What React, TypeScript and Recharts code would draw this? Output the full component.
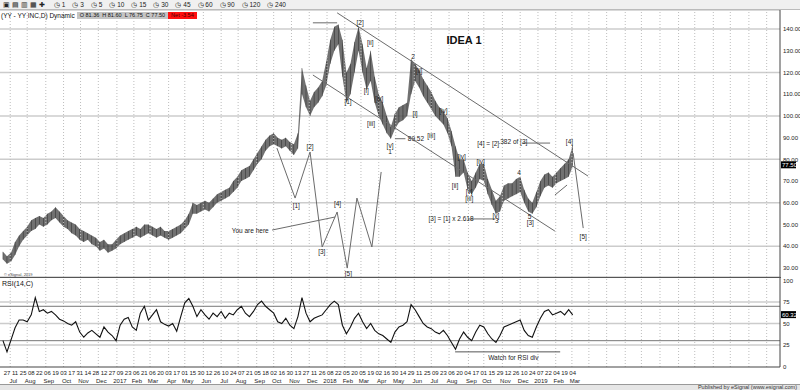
import React from "react"
import { ComposedChart, Bar, Area, Line, Scatter, XAxis, YAxis, CartesianGrid, ReferenceLine } from "recharts"

const lows = [
  34, 32, 33, 36, 40, 43, 45, 47, 48, 50,
  49, 50, 52, 53, 51, 49, 48, 46, 45, 43,
  42, 43, 41, 40, 38, 39, 37, 38, 39, 41,
  42, 43, 44, 45, 44, 45, 46, 45, 44, 45,
  44, 43, 44, 45, 46, 48, 50, 55, 55, 56,
  57, 56, 58, 60, 61, 62, 63, 65, 67, 70,
  71, 72, 75, 78, 80, 84, 86, 87, 86, 85,
  86, 84, 82, 85, 110, 104, 100, 104, 106, 109,
  114, 124, 130, 133, 118, 106, 110, 120, 130, 120,
  112, 116, 106, 100, 96, 92, 89.5, 94, 97, 98,
  100, 110, 116, 113, 109, 106, 103, 100, 98, 96,
  92, 86, 72, 72, 74, 66, 64, 67, 71, 70,
  64, 59, 55, 56, 61, 62, 63, 64, 65, 60,
  56, 55, 58, 63, 67, 68, 67, 69, 70, 71,
  72, 76.75,
]
const highs = [
  37.5, 35.5, 37, 42, 45, 47, 49, 52, 53, 54,
  53, 55, 56, 58, 56, 54, 52, 51, 50, 48,
  47, 46, 45, 44, 42, 43, 41, 41, 43, 45,
  46, 47, 48, 49, 48, 50, 50, 49, 48, 49,
  47, 47, 48, 49, 50, 52, 55, 60, 59, 60,
  61, 60, 62, 64, 65, 66, 67, 70, 72, 75,
  76, 77, 80, 83, 86, 89, 91, 92, 90, 89,
  90, 88, 87, 92, 122, 114, 107, 111, 113, 116,
  125, 135, 141, 142, 135, 120, 124, 134, 141, 133,
  122, 130, 118, 110, 106, 100, 95, 101, 104, 105,
  106, 126, 124, 121, 117, 114, 111, 107, 104, 102,
  99, 93, 86, 80, 80, 74, 70, 74, 78, 78,
  71, 66, 61, 63, 68, 69, 69, 71, 72, 66,
  62, 60, 65, 70, 73, 74, 72, 74, 76, 78,
  80, 86.5,
]
const rsi = [
  30, 17, 31, 45, 54, 54, 52, 60, 80, 64,
  66, 62, 64, 60, 55, 53, 50, 48, 52, 40,
  34, 39, 42, 38, 34, 46, 40, 36, 30, 48,
  55, 57, 46, 42, 62, 70, 54, 60, 66, 52,
  49, 47, 50, 41, 58, 74, 79, 70, 58, 66,
  60, 55, 62, 58, 64, 56, 62, 60, 66, 70,
  62, 58, 64, 72, 76, 70, 66, 62, 52, 50,
  56, 48, 44, 58, 80, 62, 52, 56, 58, 60,
  66, 72, 76, 72, 48, 38, 46, 56, 62, 52,
  44, 50, 42, 38, 36, 32, 28, 40, 46, 48,
  52, 72, 66, 58, 50, 46, 44, 40, 38, 42,
  36, 28, 20, 32, 40, 34, 30, 40, 48, 46,
  38, 32, 28, 36, 46, 48, 50, 52, 54, 42,
  36, 34, 46, 56, 64, 66, 60, 62, 64, 60,
  66, 60,
]

const dayLabels = [
  "27", "11", "25", "08", "22", "06", "19", "03", "17", "31", "14", "28", "12", "27", "09", "23", "06", "21",
  "06", "20", "03", "17", "01", "15", "30", "12", "26", "10", "24", "07", "21", "05", "18", "02", "16", "30",
  "13", "27", "11", "26", "08", "22", "05", "20", "05", "19", "02", "16", "30", "14", "29", "11", "25", "09",
  "23", "06", "20", "04", "17", "01", "15", "29", "12", "26", "10", "24", "07", "22", "04", "19", "04",
]
const monthTicks = [
  1.8, 6, 10.6, 15, 19.2, 23.6, 28.2, 32.4, 36.4, 41, 45, 49.6, 54, 58.2, 62.8, 67, 71.4,
  75.8, 80.2, 84.6, 88.6, 93, 97.2, 101.8, 106, 110.4, 115.2, 119, 123.6, 128, 132.4, 136.8, 140.8,
]
const monthLabels = [
  "Jul", "Aug", "Sep", "Oct", "Nov", "Dec", "2017", "Feb", "Mar", "Apr", "May", "Jun", "Jul", "Aug", "Sep", "Oct", "Nov",
  "Dec", "2018", "Feb", "Mar", "Apr", "May", "Jun", "Jul", "Aug", "Sep", "Oct", "Nov", "Dec", "2019", "Feb", "Mar",
]
const futureMonths = [145, 149.4, 154, 158, 162.6, 167.2, 171.2, 175.8, 180, 184.6, 189]
const priceTicks = [30, 40, 50, 60, 70, 80, 90, 100, 110, 120, 130, 140]
const rsiTicks = [0, 25, 50, 75, 100]

// drawn trend lines and the wave projection (week, price)
const priceLines = [
  [{ k: 82.7, p: 147.4 }, { k: 144.8, p: 72.3 }],
  [{ k: 76.7, p: 118.8 }, { k: 136.6, p: 47 }],
  [{ k: 76.7, p: 142.8 }, { k: 82.7, p: 142.8 }],
  [
    { k: 67.8, p: 85.2 }, { k: 72.3, p: 62.2 }, { k: 76, p: 83.4 }, { k: 79, p: 39.7 }, { k: 82.7, p: 55.8 },
    { k: 85.2, p: 30 }, { k: 87.6, p: 62.2 }, { k: 91.3, p: 39.7 }, { k: 93.6, p: 74.2 },
  ],
  [{ k: 66.6, p: 47.5 }, { k: 82.2, p: 53.5 }],
  [{ k: 128.5, p: 87.5 }, { k: 135.4, p: 87.5 }],
  [{ k: 115.1, p: 52.6 }, { k: 121.8, p: 52.6 }],
  [{ k: 141.1, p: 82.9 }, { k: 143.6, p: 48.4 }],
  [{ k: 136.6, p: 63.6 }, { k: 139.6, p: 68.2 }],
  [{ k: 97, p: 89.5 }, { k: 99.6, p: 89.5 }],
]
const priceNotes = [
  { k: 88.4, p: 142.8, t: "[2]" }, { k: 90.9, p: 133.6, t: "[ii]" }, { k: 85.4, p: 106.4, t: "[1]" },
  { k: 89.9, p: 111.9, t: "[i]" }, { k: 93.1, p: 107.8, t: "[iv]" }, { k: 91.1, p: 96.3, t: "[iii]" },
  { k: 95.8, p: 86.6, t: "[v]" }, { k: 95.8, p: 83.4, t: "1" }, { k: 102.2, p: 89.5, t: "89.52" },
  { k: 101.5, p: 127.1, t: "2" }, { k: 103, p: 121.1, t: "[ii]" }, { k: 102, p: 100.9, t: "[i]" },
  { k: 109, p: 102.7, t: "[iv]" }, { k: 106, p: 91.2, t: "[iii]" },
  { k: 111.9, p: 68.2, t: "[ii]" }, { k: 113.5, p: 81.5, t: "[iv]" }, { k: 115.4, p: 65.1, t: "[v]" },
  { k: 115.4, p: 61.8, t: "[iii]" }, { k: 118.2, p: 78.9, t: "[iv]" }, { k: 122, p: 54.4, t: "[v]" },
  { k: 122.2, p: 51.8, t: "3" }, { k: 127.7, p: 73.9, t: "4" }, { k: 130.3, p: 53.7, t: "5" },
  { k: 130.5, p: 50.8, t: "[3]" }, { k: 140.2, p: 88.1, t: "[4]" }, { k: 143.6, p: 44.3, t: "[5]" },
  { k: 120.1, p: 87.1, t: "[4] = [2]" }, { k: 126.2, p: 88.4, t: ".382 of [3]" },
  { k: 110.9, p: 52.6, t: "[3] = [1] x 2.618" },
  { k: 72.6, p: 59, t: "[1]" }, { k: 76, p: 86.1, t: "[2]" }, { k: 78.9, p: 37.5, t: "[3]" },
  { k: 82.8, p: 59.8, t: "[4]" }, { k: 85.5, p: 27.3, t: "[5]" }, { k: 61.2, p: 47.5, t: "You are here" },
]
const ideaNote = [{ k: 114.1, p: 134.9, t: "IDEA 1" }]
const rsiLine = [{ k: 111.9, v: 17 }, { k: 137.9, v: 17 }]
const rsiNote = [{ k: 126.3, v: 11, t: "Watch for RSI div" }]

const toolbarFrames = ["1", "3", "5", "10", "15", "30", "45", "60", "90", "120", "240"]

const X_DOMAIN: [number, number] = [-0.73, 192.3]
const FONT = "'Liberation Sans', Arial, sans-serif"
const INK = "#222"

const bars = lows.map((lo, i) => ({ k: i, range: [lo, highs[i]], rsi: rsi[i] }))
const dayTicks = dayLabels.map((_, i) => 1 + i * 2)
const gridX = [...monthTicks, ...futureMonths]

const Empty = () => <g />

const NoteShape = (props: any) => (
  <text x={props.cx} y={props.cy} textAnchor="middle" dominantBaseline="central" fontSize={6.5} fontFamily={FONT} opacity={0.999} style={{ fill: INK }}>
    {props.payload.t}
  </text>
)
const IdeaShape = (props: any) => (
  <text x={props.cx} y={props.cy} textAnchor="middle" dominantBaseline="central" fontSize={11} fontWeight={700} fontFamily={FONT} opacity={0.999} style={{ fill: "#111" }}>
    {props.payload.t}
  </text>
)

const DayTick = (props: any) => {
  const i = dayTicks.indexOf(props.payload.value)
  return (
    <text x={props.x} y={props.y} dy={0} textAnchor="middle" fontSize={6} fontFamily={FONT} style={{ fill: INK }}>
      {dayLabels[i]}
    </text>
  )
}
const MonthTick = (props: any) => {
  const i = monthTicks.indexOf(props.payload.value)
  return (
    <text x={props.x + 3} y={props.y} dy={0} textAnchor="middle" fontSize={6} fontFamily={FONT} style={{ fill: INK }}>
      {monthLabels[i]}
    </text>
  )
}

const LastBox = (props: any) => {
  const vb = props.viewBox
  const x = vb.x + vb.width + 1
  return (
    <g>
      <rect x={x} y={vb.y - 3.5} width={15} height={7} fill="#000" />
      <text x={x + 1} y={vb.y} dominantBaseline="central" fontSize={6} fontFamily={FONT} style={{ fill: "#fff" }}>
        {props.text}
      </text>
    </g>
  )
}

export default function App() {
  return (
    <div style={{ position: "absolute", left: 0, top: 0, width: 800, height: 390, background: "#fff", fontFamily: FONT, overflow: "hidden" }}>
      <div style={{ position: "absolute", left: 0, top: 10 }}>
        <ComposedChart width={800} height={268} data={bars} margin={{ top: 0, right: 0, bottom: 1, left: 0 }}>
          <CartesianGrid vertical={false} stroke="#cccccc" strokeWidth={1.5} />
          {gridX.map((m) => (
            <ReferenceLine key={m} x={m} stroke="#bdbdbd" strokeDasharray="1 2" />
          ))}
          <XAxis type="number" dataKey="k" domain={X_DOMAIN} allowDataOverflow hide />
          <YAxis
            orientation="right"
            width={20}
            domain={[25.9, 148.7]}
            allowDataOverflow
            ticks={priceTicks}
            tickFormatter={(v: number) => v.toFixed(2)}
            tick={{ fontSize: 6, fill: INK, fontFamily: FONT }}
            tickLine={false}
            tickSize={0}
            tickMargin={3}
            axisLine={{ stroke: "#444" }}
          />
          <Area dataKey="range" type="linear" stroke="none" fill="#4d4d4d" fillOpacity={0.8} isAnimationActive={false} />
          <Bar dataKey="range" barSize={1.5} fill="#111" isAnimationActive={false} />
          {priceLines.map((pts, i) => (
            <Scatter key={i} data={pts} dataKey="p" fill="#6b6b6b" line={{ stroke: "#6b6b6b", strokeWidth: 1 }} shape={Empty} isAnimationActive={false} />
          ))}
          <Scatter data={priceNotes} dataKey="p" fill={INK} shape={NoteShape} isAnimationActive={false} />
          <Scatter data={ideaNote} dataKey="p" fill="#111" shape={IdeaShape} isAnimationActive={false} />
          <ReferenceLine y={77.5} stroke="none" label={<LastBox text="77.50" />} />
        </ComposedChart>
      </div>

      <div style={{ position: "absolute", left: 0, top: 278 }}>
        <ComposedChart width={800} height={106} data={bars} margin={{ top: 0, right: 0, bottom: 0, left: 0 }}>
          {gridX.map((m) => (
            <ReferenceLine key={m} xAxisId="d" x={m} stroke="#bdbdbd" strokeDasharray="1 2" />
          ))}
          <XAxis
            xAxisId="d"
            type="number"
            dataKey="k"
            domain={X_DOMAIN}
            allowDataOverflow
            ticks={dayTicks}
            interval={0}
            height={8}
            tick={DayTick}
            tickLine={false}
            axisLine={{ stroke: "#444" }}
          />
          <XAxis
            xAxisId="m"
            type="number"
            dataKey="k"
            domain={X_DOMAIN}
            allowDataOverflow
            ticks={monthTicks}
            interval={0}
            height={9}
            tick={MonthTick}
            tickLine={false}
            axisLine={false}
          />
          <YAxis
            orientation="right"
            width={20}
            domain={[-0.6, 102.9]}
            allowDataOverflow
            ticks={rsiTicks}
            tick={{ fontSize: 6, fill: INK, fontFamily: FONT }}
            tickLine={false}
            tickSize={0}
            tickMargin={3}
            axisLine={{ stroke: "#444" }}
          />
          <ReferenceLine xAxisId="d" y={75} stroke="#cccccc" strokeWidth={1.5} />
          <ReferenceLine xAxisId="d" y={50} stroke="#cccccc" strokeWidth={1.5} />
          <ReferenceLine xAxisId="d" y={25} stroke="#cccccc" strokeWidth={1.5} />
          <ReferenceLine xAxisId="d" y={70} stroke="#777" />
          <ReferenceLine xAxisId="d" y={30} stroke="#777" />
          <Line xAxisId="d" dataKey="rsi" type="linear" stroke="#111" strokeWidth={1.1} dot={false} isAnimationActive={false} />
          <Scatter xAxisId="d" data={rsiLine} dataKey="v" fill="#555" line={{ stroke: "#555", strokeWidth: 1 }} shape={Empty} isAnimationActive={false} />
          <Scatter xAxisId="d" data={rsiNote} dataKey="v" fill={INK} shape={NoteShape} isAnimationActive={false} />
          <ReferenceLine xAxisId="d" y={60.32} stroke="none" label={<LastBox text="60.32" />} />
        </ComposedChart>
      </div>

      {/* toolbar */}
      <div style={{ position: "absolute", left: 0, top: 0, width: 800, height: 9, background: "#f0f0f0", borderBottom: "1px solid #bbb", display: "flex", alignItems: "center", fontSize: 6.5, color: "#222", whiteSpace: "nowrap" }}>
        <span style={{ marginLeft: 3, letterSpacing: 2 }}>▣▤▥▦✚</span>
        {toolbarFrames.map((f) => (
          <span key={f} style={{ marginLeft: 7 }}>◷ {f}</span>
        ))}
      </div>

      {/* symbol line */}
      <div style={{ position: "absolute", left: 1, top: 12, fontSize: 6.5, color: "#111", whiteSpace: "nowrap", display: "flex", alignItems: "center" }}>
        <span>(YY - YY INC,D) Dynamic</span>
        <span style={{ marginLeft: 2, background: "#c4c4c4", padding: "0 3px", fontSize: 5.5, lineHeight: "7px" }}>O 81.36&nbsp;&nbsp;H 81.60&nbsp;&nbsp;L 76.75&nbsp;&nbsp;C 77.50</span>
        <span style={{ background: "#ff1010", padding: "0 3px", fontSize: 5.5, lineHeight: "7px", color: "#400" }}>Net -3.54</span>
      </div>

      <div style={{ position: "absolute", left: 4, top: 272, fontSize: 4, color: "#444" }}>© eSignal, 2019</div>
      <div style={{ position: "absolute", left: 0, top: 277, width: 781, height: 1, background: "#555" }} />
      <div style={{ position: "absolute", left: 2, top: 280, fontSize: 7, color: "#111" }}>RSI(14,C)</div>

      <div style={{ position: "absolute", left: 0, top: 384, width: 800, height: 6, background: "#e6e6e6", borderTop: "1px solid #999" }} />
      <div style={{ position: "absolute", right: 3, top: 384, fontSize: 5.5, color: "#333", lineHeight: "6px" }}>Published by eSignal (www.esignal.com)</div>
    </div>
  )
}
